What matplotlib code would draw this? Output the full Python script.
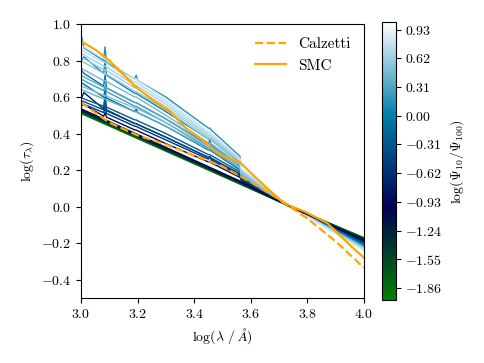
import numpy as np
import matplotlib
matplotlib.use('Agg')
import matplotlib.pyplot as plt
from matplotlib import cm, colors

plt.rcParams['font.family'] = 'serif'
plt.rcParams['font.serif'] = ['cmr10', 'DejaVu Serif']
plt.rcParams['mathtext.fontset'] = 'cm'
plt.rcParams['axes.formatter.use_mathtext'] = True
plt.rcParams['font.size'] = 10

# model attenuation curves, log(tau) vs log(lambda), coloured by log(Psi10/Psi100)
xs_flat = [3.0, 3.562, 3.74, 4.0]
xs_spk = [3.0, 3.01, 3.08, 3.085, 3.09, 3.19, 3.195, 3.2, 3.3,
          3.45, 3.455, 3.46, 3.562, 3.566, 3.65, 3.74, 4.0]

flat_c = [-1.95, -1.80, -1.65, -1.50, -1.35, -1.20, -1.05]
flat_y = [
    [0.510, 0.123, 0.0, -0.170],
    [0.515, 0.126, 0.0, -0.172],
    [0.518, 0.128, 0.0, -0.175],
    [0.522, 0.130, 0.0, -0.177],
    [0.526, 0.133, 0.0, -0.180],
    [0.530, 0.136, 0.0, -0.183],
    [0.536, 0.140, 0.0, -0.186],
]

# ordered from dark to light (drawing order)
spk_c = [-0.90, -0.75, -0.55, -0.40, -0.25, -0.15, -0.05, 0.05, 0.15,
         0.25, 0.35, 0.40, 0.45, 0.50, 0.55, 0.60, 0.65, 0.72, 0.80]
spk_y = [
    [0.55, 0.56, 0.495, 0.515, 0.49, 0.42, 0.42, 0.415, 0.345, 0.245, 0.245, 0.24, 0.16, 0.145, 0.072, 0.0, -0.19],
    [0.59, 0.625, 0.535, 0.595, 0.53, 0.455, 0.455, 0.45, 0.38, 0.27, 0.27, 0.265, 0.175, 0.155, 0.078, 0.0, -0.195],
    [0.565, 0.56, 0.515, 0.54, 0.51, 0.44, 0.44, 0.435, 0.365, 0.26, 0.275, 0.255, 0.17, 0.15, 0.075, 0.0, -0.198],
    [0.58, 0.575, 0.53, 0.565, 0.525, 0.455, 0.455, 0.45, 0.38, 0.27, 0.27, 0.265, 0.18, 0.155, 0.078, 0.0, -0.20],
    [0.60, 0.59, 0.55, 0.60, 0.545, 0.475, 0.475, 0.47, 0.40, 0.285, 0.285, 0.28, 0.19, 0.16, 0.08, 0.0, -0.205],
    [0.68, 0.67, 0.60, 0.64, 0.595, 0.52, 0.535, 0.515, 0.44, 0.31, 0.31, 0.305, 0.20, 0.165, 0.082, 0.0, -0.208],
    [0.75, 0.73, 0.66, 0.72, 0.65, 0.57, 0.57, 0.565, 0.48, 0.34, 0.365, 0.335, 0.22, 0.175, 0.088, 0.0, -0.21],
    [0.80, 0.82, 0.73, 0.80, 0.72, 0.62, 0.62, 0.615, 0.52, 0.37, 0.37, 0.365, 0.24, 0.185, 0.092, 0.0, -0.215],
    [0.945, 0.87, 0.80, 0.875, 0.79, 0.70, 0.72, 0.69, 0.60, 0.43, 0.43, 0.42, 0.275, 0.20, 0.10, 0.0, -0.22],
    [0.70, 0.69, 0.635, 0.66, 0.63, 0.55, 0.55, 0.545, 0.46, 0.32, 0.32, 0.315, 0.21, 0.17, 0.085, 0.0, -0.22],
    [0.72, 0.71, 0.655, 0.655, 0.65, 0.57, 0.57, 0.565, 0.48, 0.335, 0.335, 0.33, 0.22, 0.175, 0.088, 0.0, -0.222],
    [0.64, 0.635, 0.59, 0.59, 0.585, 0.52, 0.52, 0.515, 0.44, 0.315, 0.315, 0.31, 0.21, 0.172, 0.086, 0.0, -0.224],
    [0.76, 0.75, 0.69, 0.69, 0.685, 0.60, 0.60, 0.595, 0.50, 0.35, 0.35, 0.345, 0.23, 0.18, 0.09, 0.0, -0.225],
    [0.66, 0.655, 0.61, 0.61, 0.605, 0.54, 0.54, 0.535, 0.46, 0.33, 0.33, 0.325, 0.22, 0.18, 0.09, 0.0, -0.226],
    [0.80, 0.79, 0.73, 0.73, 0.725, 0.63, 0.63, 0.625, 0.53, 0.37, 0.37, 0.365, 0.24, 0.19, 0.095, 0.0, -0.228],
    [0.82, 0.81, 0.75, 0.75, 0.745, 0.65, 0.65, 0.645, 0.545, 0.38, 0.38, 0.375, 0.25, 0.195, 0.098, 0.0, -0.23],
    [0.84, 0.83, 0.77, 0.77, 0.765, 0.665, 0.665, 0.66, 0.56, 0.39, 0.39, 0.385, 0.255, 0.20, 0.10, 0.0, -0.232],
    [0.86, 0.85, 0.79, 0.79, 0.785, 0.68, 0.68, 0.675, 0.575, 0.40, 0.40, 0.395, 0.26, 0.205, 0.105, 0.0, -0.235],
    [0.88, 0.875, 0.81, 0.81, 0.80, 0.70, 0.70, 0.69, 0.59, 0.41, 0.41, 0.40, 0.265, 0.21, 0.11, 0.0, -0.24],
]

# reference curves
calz_x = [3.0, 3.1, 3.2, 3.3, 3.4, 3.5, 3.6, 3.7, 3.8, 3.9, 4.0]
calz_y = [0.57, 0.46, 0.39, 0.34, 0.28, 0.22, 0.135, 0.04, -0.065, -0.19, -0.335]
smc_x = [3.0, 3.05, 3.1, 3.19, 3.26, 3.315, 3.37, 3.43, 3.49, 3.56, 3.62, 3.715,
         3.79, 3.87, 3.95, 4.0]
smc_y = [0.905, 0.86, 0.80, 0.66, 0.575, 0.52, 0.43, 0.365, 0.283, 0.245, 0.155,
         0.02, -0.027, -0.09, -0.21, -0.28]

cbar_ticks = [-1.86, -1.55, -1.24, -0.93, -0.62, -0.31, 0.0, 0.31, 0.62, 0.93]

cmap = plt.get_cmap('ocean')
norm = colors.Normalize(vmin=-1.99, vmax=1.01)

fig = plt.figure(figsize=(4.84, 3.63), dpi=100)
ax = fig.add_axes([0.1674, 0.1791, 0.5847, 0.7548])
cax = fig.add_axes([0.7886, 0.1736, 0.0289, 0.765])

for c, y in zip(spk_c, spk_y):
    ax.plot(xs_spk, y, color=cmap(norm(c)), lw=1.0)
for c, y in zip(flat_c, flat_y):
    ax.plot(xs_flat, y, color=cmap(norm(c)), lw=1.0)

ax.plot(calz_x, calz_y, '--', color='orange', lw=1.6, label='Calzetti')
ax.plot(smc_x, smc_y, '-', color='orange', lw=1.6, label='SMC')

ax.set_xlim(3.0, 4.0)
ax.set_ylim(-0.5, 1.0)
ax.set_xticks([3.0, 3.2, 3.4, 3.6, 3.8, 4.0])
ax.set_yticks([-0.4, -0.2, 0.0, 0.2, 0.4, 0.6, 0.8, 1.0])
ax.set_xlabel(r'$\log(\lambda\ /\ \AA)$')
ax.set_ylabel(r'$\log(\tau_\lambda)$')
ax.legend(loc='upper right', frameon=False, fontsize=11)

sm = cm.ScalarMappable(norm=norm, cmap=cmap)
cb = fig.colorbar(sm, cax=cax)
cb.set_ticks(cbar_ticks)
cb.set_ticklabels([r'$%.2f$' % t for t in cbar_ticks])
cb.set_label(r'$\log(\Psi_{10}/\Psi_{100})$')

fig.savefig('out.png', dpi=100)
